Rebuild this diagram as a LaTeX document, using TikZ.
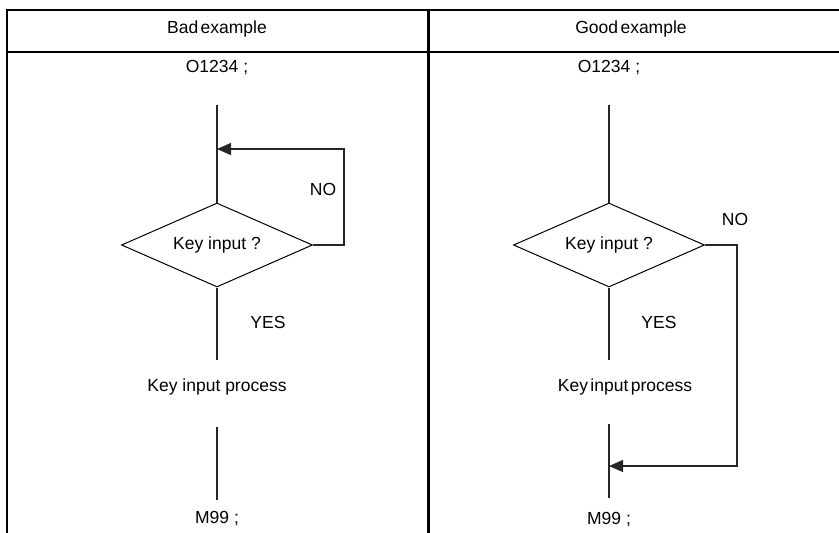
\documentclass[tikz,border=0pt]{standalone}
\usepackage{fontspec}
\setmainfont{Liberation Sans}
\newfontfamily\tightfont[WordSpace=0.5]{Liberation Sans}
\usetikzlibrary{shapes.geometric,arrows.meta}
\begin{document}
\begin{tikzpicture}[x=1pt,y=-1pt,
  frame/.style={line width=2.4pt, line cap=rect},
  flow/.style={line width=1.3pt, draw=black!85},
  lbl/.style={font=\fontsize{17.5}{20}\selectfont, inner sep=0pt},
  tight/.style={font=\tightfont\fontsize{17.5}{20}\selectfont, inner sep=0pt},
  dec/.style={diamond, aspect=2.3, draw, line width=1pt, minimum width=191pt, minimum height=84pt,
              inner sep=0pt, font=\fontsize{17.5}{20}\selectfont},
  tip/.style={-{Triangle[length=14pt,width=12pt]}}]
\useasboundingbox (0,0) rectangle (839,533);

% table frame: open on the right and at the bottom
\draw[frame] (839,10) -- (7,10) -- (7,533);
\draw[frame] (7,52) -- (839,52);
\draw[frame] (428.5,10) -- (428.5,533);

% column headings
\node[tight] (hbad) at (217,29) {Bad example};
\node[tight] (hgood) at (631,29) {Good example};

% left column: loop back above the decision
\node[lbl] (pa) at (217,68) {O1234 ;};
\coordinate (a1) at (217,105);
\node[dec] (da) at (217,245) {Key input ?};
\coordinate (ja) at (217,149);
\coordinate (ca) at (344,149);
\node[lbl] (noa) at (323,189) {NO};
\node[lbl] (yesa) at (268,322) {YES};
\node[lbl] (ka) at (217,387) {Key input process};
\coordinate (a2) at (217,360);
\coordinate (a3) at (217,427);
\coordinate (a4) at (217,500);
\node[lbl] (ma) at (217,519) {M99 ;};

\draw[flow] (a1) -- (da.north);
\draw[flow] (da.south) -- (a2);
\draw[flow] (a3) -- (a4);
\draw[flow,tip] (da.east) -| (ca) -- (ja);

% right column: skip forward past the process
\node[lbl] (pb) at (609,68) {O1234 ;};
\coordinate (b1) at (609,105);
\node[dec] (db) at (609,245) {Key input ?};
\coordinate (jb) at (609,466);
\coordinate (cb) at (737,466);
\node[lbl] (nob) at (735,219) {NO};
\node[lbl] (yesb) at (659,322) {YES};
\node[tight] (kb) at (625,387) {Key input process};
\coordinate (b2) at (609,360);
\coordinate (b3) at (609,424);
\coordinate (b4) at (609,498);
\node[lbl] (mb) at (609,520) {M99 ;};

\draw[flow] (b1) -- (db.north);
\draw[flow] (db.south) -- (b2);
\draw[flow] (b3) -- (b4);
\draw[flow,tip] (db.east) -| (cb) -- (jb);
\end{tikzpicture}
\end{document}
